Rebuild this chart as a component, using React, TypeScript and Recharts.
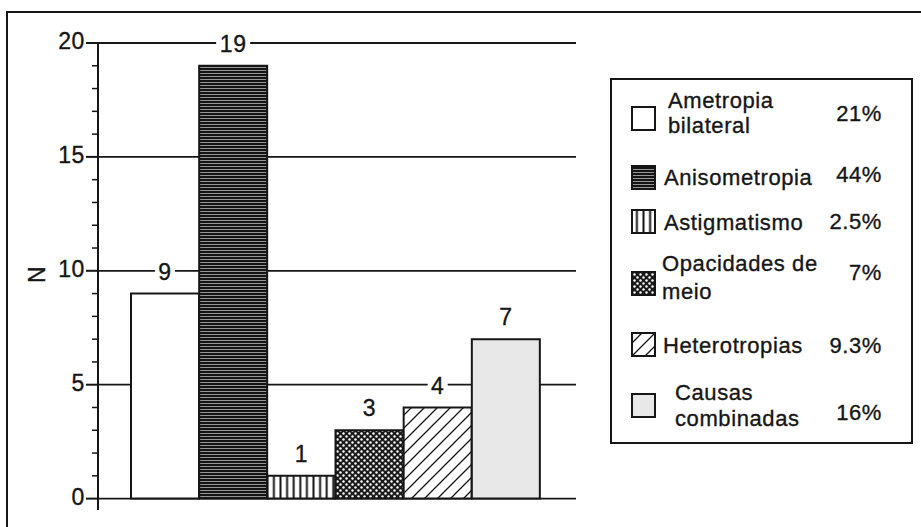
import { BarChart, Bar, XAxis, YAxis, CartesianGrid, Cell, LabelList } from 'recharts';

const categories = ['Ametropia bilateral', 'Anisometropia', 'Astigmatismo', 'Opacidades de meio', 'Heterotropias', 'Causas combinadas'];
const counts = [9, 19, 1, 3, 4, 7];
const percents = ['21%', '44%', '2.5%', '7%', '9.3%', '16%'];
const legendLines = [['Ametropia', 'bilateral'], ['Anisometropia'], ['Astigmatismo'], ['Opacidades de', 'meio'], ['Heterotropias'], ['Causas', 'combinadas']];
const yTicks = [0, 1, 2, 3, 4, 5, 6, 7, 8, 9, 10, 11, 12, 13, 14, 15, 16, 17, 18, 19, 20];
const gridValues = [0, 5, 10, 15, 20];
const yDomain: [number, number] = [-0.5, 20];

const fills = ['#ffffff', 'url(#pat-hline)', 'url(#pat-vline)', 'url(#pat-dots)', 'url(#pat-diag)', '#e8e8e8'];
const FONT = '"Liberation Sans", Arial, Helvetica, sans-serif';
const INK = '#161616';

const data = categories.map((name, i) => ({ name, value: counts[i] }));

// text look of the scanned original: a bit wide and heavy
const textStyle = { fontFamily: FONT, fill: INK, stroke: INK, strokeWidth: 0.35, letterSpacing: 0.6 };

// legend layout (swatch top, text line centres, percent centre)
const legendRows = [
  { sw: 107, lines: [100, 125], pct: 113, tx: 668 },
  { sw: 166, lines: [177], pct: 174, tx: 664 },
  { sw: 210, lines: [222], pct: 221, tx: 664 },
  { sw: 272, lines: [263, 291], pct: 272, tx: 662 },
  { sw: 333, lines: [345], pct: 345, tx: 663 },
  { sw: 394, lines: [392, 418], pct: 412, tx: 675 },
];

// eslint-disable-next-line @typescript-eslint/no-explicit-any
function YTick({ x, y, payload }: any) {
  const major = payload.value % 5 === 0;
  return (
    <g>
      <line x1={x - (major ? 12 : 6)} x2={x} y1={y} y2={y} stroke={INK} strokeWidth={major ? 2 : 1.5} />
      {major && (
        <text x={x - 13} y={y} dy="0.28em" textAnchor="end" fontSize={23} style={textStyle}>
          {payload.value}
        </text>
      )}
    </g>
  );
}

// eslint-disable-next-line @typescript-eslint/no-explicit-any
function ValueLabel({ x, y, width, value }: any) {
  const cx = x + width / 2;
  const ty = y - 22;
  const w = String(value).length * 14 + 6;
  return (
    <g>
      <rect x={cx - w / 2} y={ty - 10} width={w} height={20} fill="#ffffff" />
      <text x={cx} y={ty} dy="0.35em" textAnchor="middle" fontSize={23} style={textStyle}>
        {value}
      </text>
    </g>
  );
}

// eslint-disable-next-line @typescript-eslint/no-explicit-any
function AxisTitle({ viewBox }: any) {
  const cx = viewBox.x + 29;
  const cy = viewBox.y + viewBox.height / 2 - 2;
  return (
    <text x={cx} y={cy} dy="0.35em" textAnchor="middle" fontSize={23} style={textStyle} transform={`rotate(-90 ${cx} ${cy})`}>
      N
    </text>
  );
}

// grid only at the labelled values, mapped through the plot area
// eslint-disable-next-line @typescript-eslint/no-explicit-any
function gridCoords({ offset }: any) {
  const [lo, hi] = yDomain;
  return gridValues.map((v) => offset.top + ((hi - v) / (hi - lo)) * offset.height);
}

function Overlay() {
  return (
    <svg width={921} height={527} style={{ position: 'absolute', left: 0, top: 0, pointerEvents: 'none' }}>
      <defs>
        <pattern id="pat-hline" width={4} height={3} patternUnits="userSpaceOnUse">
          <rect width={4} height={3} fill="#141414" />
          <line x1={0} x2={4} y1={1.5} y2={1.5} stroke="#b8b8b8" strokeWidth={0.8} />
        </pattern>
        <pattern id="pat-vline" width={6.6} height={10} patternUnits="userSpaceOnUse">
          <rect width={6.6} height={10} fill="#ffffff" />
          <line x1={3.3} x2={3.3} y1={0} y2={10} stroke={INK} strokeWidth={2} />
        </pattern>
        <pattern id="pat-dots" width={6} height={6} patternUnits="userSpaceOnUse">
          <rect width={6} height={6} fill="#1a1a1a" />
          <circle cx={1.5} cy={1.5} r={1.2} fill="#ffffff" />
          <circle cx={4.5} cy={4.5} r={1.2} fill="#ffffff" />
        </pattern>
        <pattern id="pat-diag" width={13} height={13} patternUnits="userSpaceOnUse">
          <rect width={13} height={13} fill="#ffffff" />
          <path d="M0,13 L13,0 M-3,3 L3,-3 M10,16 L16,10" stroke={INK} strokeWidth={1.3} />
        </pattern>
      </defs>
      {/* page frame */}
      <path d="M7,530 L7,12 L921,12" fill="none" stroke={INK} strokeWidth={2} />
      {/* legend */}
      <rect x={611} y={79} width={301} height={364} fill="none" stroke={INK} strokeWidth={2} />
      {legendRows.map((row, i) => (
        <g key={categories[i]}>
          <rect x={632} y={row.sw} width={23} height={23} fill={fills[i]} stroke={INK} strokeWidth={2} />
          {legendLines[i].map((t, j) => (
            <text key={t} x={row.tx} y={row.lines[j]} dy="0.35em" fontSize={22} style={textStyle}>
              {t}
            </text>
          ))}
          <text x={882} y={row.pct} dy="0.35em" textAnchor="end" fontSize={22} style={textStyle}>
            {percents[i]}
          </text>
        </g>
      ))}
    </svg>
  );
}

export default function App() {
  return (
    <div style={{ position: 'absolute', left: 0, top: 0, width: 921, height: 527, background: '#fff' }}>
      <Overlay />
      <div style={{ position: 'absolute', left: 0, top: 0 }}>
        <BarChart width={921} height={527} data={data} margin={{ top: 43, right: 345, bottom: 17, left: 8 }} barCategoryGap={0}>
          <CartesianGrid
            yAxisId="left"
            vertical={false}
            stroke={INK}
            strokeWidth={1.8}
            horizontalCoordinatesGenerator={gridCoords}
          />
          <XAxis dataKey="name" hide padding={{ left: 33, right: 36 }} />
          <YAxis
            yAxisId="left"
            domain={yDomain}
            ticks={yTicks}
            interval={0}
            width={90}
            tickSize={0}
            tickMargin={0}
            tickLine={false}
            tick={<YTick />}
            axisLine={{ stroke: INK, strokeWidth: 2 }}
            label={<AxisTitle />}
          />
          <YAxis
            yAxisId="right"
            orientation="right"
            domain={yDomain}
            width={0}
            tick={false}
            tickLine={false}
            axisLine={{ stroke: INK, strokeWidth: 2 }}
          />
          <Bar yAxisId="left" dataKey="value" stroke={INK} strokeWidth={2} isAnimationActive={false}>
            {data.map((d, i) => (
              <Cell key={d.name} fill={fills[i]} />
            ))}
            <LabelList dataKey="value" content={<ValueLabel />} />
          </Bar>
        </BarChart>
      </div>
    </div>
  );
}
